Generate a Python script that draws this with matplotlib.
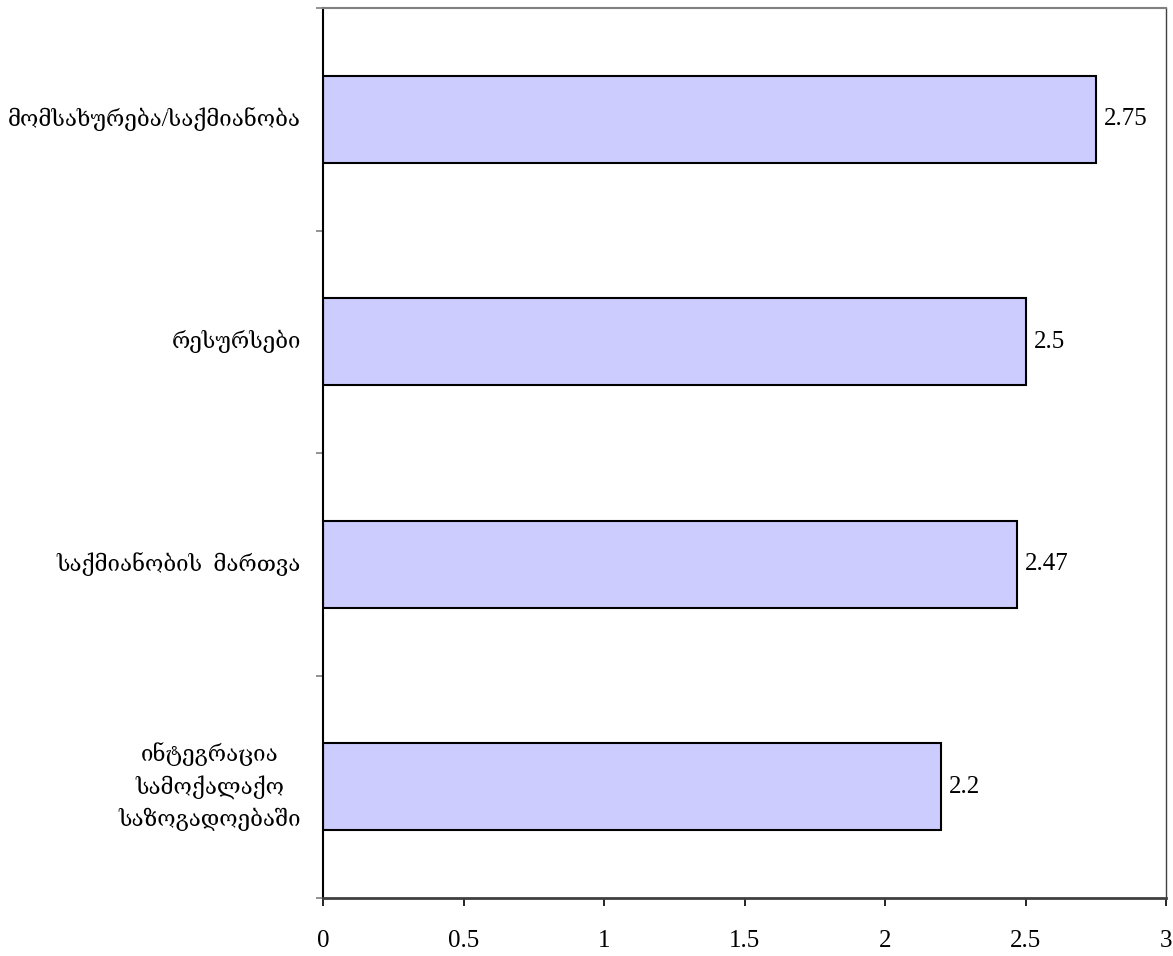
import matplotlib
matplotlib.use("Agg")
import matplotlib.pyplot as plt
import numpy as np

# categories listed top to bottom as in the chart
categories = [
    "მომსახურება/საქმიანობა",
    "რესურსები",
    "საქმიანობის  მართვა",
    "ინტეგრაცია\nსამოქალაქო\nსაზოგადოებაში",
]
values = [2.75, 2.5, 2.47, 2.2]
value_labels = ["2.75", "2.5", "2.47", "2.2"]
xticks = [0, 0.5, 1, 1.5, 2, 2.5, 3]
xtick_labels = ["0", "0.5", "1", "1.5", "2", "2.5", "3"]

plt.rcParams['font.family'] = ['Liberation Serif', 'DejaVu Serif']

fig = plt.figure(figsize=(11.73, 9.56), dpi=100)
ax = fig.add_axes([323 / 1173, 58 / 956, (1166 - 323) / 1173, (898 - 8) / 956])

y = np.arange(len(categories))
ax.barh(y, values, height=0.39, color='#CCCCFF', edgecolor='black', linewidth=1.5)
ax.set_xlim(0, 3)
ax.set_ylim(len(categories) - 0.5, -0.5)

# value labels to the right of each bar
for yi, v, lab in zip(y, values, value_labels):
    ax.annotate(lab, (v, yi), xytext=(8, 0), textcoords='offset pixels',
                ha='left', va='center', fontsize=18)

# category labels (ticks sit at the category boundaries)
ax.set_yticks(np.arange(-0.5, len(categories), 1.0))
ax.set_yticklabels([])
ax.tick_params(axis='y', direction='out', length=5, width=1.2, color='#808080')
for yi, cat in zip(y, categories):
    ax.annotate(cat, (0, yi), xytext=(-22, 0), textcoords='offset pixels',
                ha='right', va='center', multialignment='center',
                fontsize=16, linespacing=1.5)

ax.set_xticks(xticks)
ax.set_xticklabels(xtick_labels, fontsize=18)
ax.tick_params(axis='x', direction='out', length=6, width=1.2, pad=17)

ax.spines['left'].set_color('black')
ax.spines['left'].set_linewidth(1.5)
ax.spines['bottom'].set_color('#404040')
ax.spines['bottom'].set_linewidth(2)
ax.spines['top'].set_color('#808080')
ax.spines['top'].set_linewidth(1.5)
ax.spines['right'].set_color('#404040')
ax.spines['right'].set_linewidth(1)

fig.savefig('out.png', dpi=100)
